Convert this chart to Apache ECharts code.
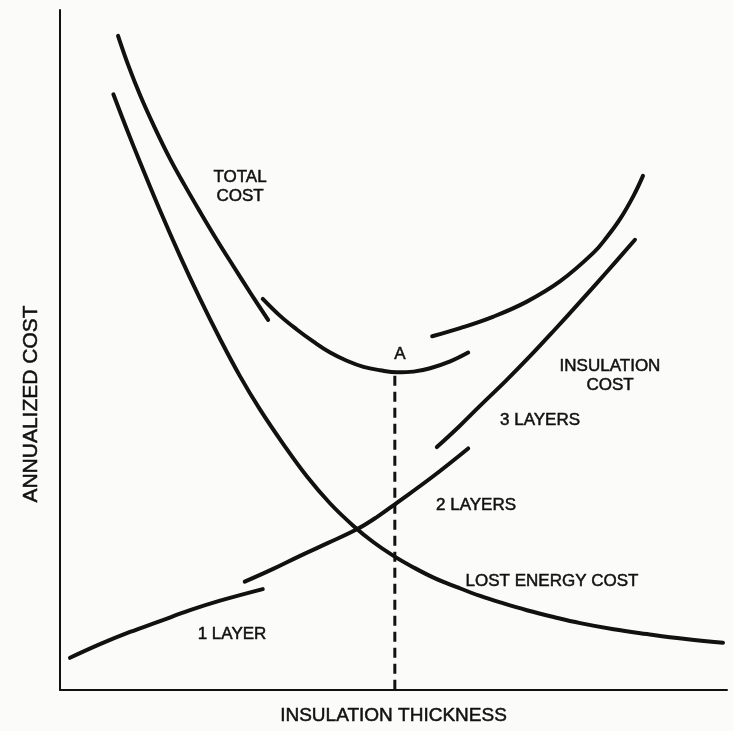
<!DOCTYPE html>
<html>
<head>
<meta charset="utf-8">
<script src="https://cdn.jsdelivr.net/npm/echarts@6/dist/echarts.min.js"></script>
<style>
  html, body { margin: 0; padding: 0; background: #fbfbfa; }
  #chart { width: 733px; height: 731px; }
</style>
</head>
<body>
<div id="chart"></div>
<script>
// thickness (0-100) vs annualized cost (0-100)
var totalCost1Layer = [[8.7, 96.2], [10.3, 91.7], [12.0, 87.5], [14.2, 82.7], [16.5, 78.1], [18.7, 74.2],
  [21.0, 70.3], [23.5, 66.2], [26.0, 62.3], [28.6, 58.3], [31.2, 54.4]];
var totalCost2Layers = [[30.4, 57.5], [33.0, 55.0], [35.5, 53.0], [38.0, 51.2], [40.5, 49.6], [43.0, 48.4],
  [45.5, 47.5], [48.0, 47.0], [50.5, 46.7], [53.0, 46.8], [55.5, 47.3], [58.5, 48.3], [61.2, 49.6]];
var totalCost3Layers = [[55.8, 52.0], [60.0, 53.2], [65.0, 54.9], [70.0, 57.1], [75.0, 60.1], [80.0, 64.3],
  [82.0, 66.6], [84.0, 69.3], [86.0, 72.7], [87.4, 75.6]];
var insulation1Layer = [[1.5, 4.7], [6.0, 6.7], [10.5, 8.5], [15.0, 10.1], [19.5, 11.7], [24.0, 13.1],
  [30.4, 14.8]];
var insulation2Layers = [[27.7, 15.9], [31.8, 17.7], [36.0, 19.7], [40.2, 21.6], [44.5, 23.6], [47.5, 25.4],
  [50.5, 27.5], [55.8, 31.3], [61.2, 35.5]];
var insulation3Layers = [[56.5, 35.7], [59.8, 38.7], [63.0, 41.8], [66.8, 45.4], [70.5, 49.1], [74.2, 53.0],
  [78.0, 57.1], [82.1, 61.6], [86.2, 66.2]];
var lostEnergyCost = [[8.0, 87.6], [10.0, 82.5], [12.0, 77.6], [15.0, 70.5], [18.0, 63.8], [21.0, 57.5],
  [24.0, 51.6], [27.0, 46.1], [30.0, 41.2], [33.5, 36.1], [37.0, 31.4], [40.5, 27.4], [44.0, 24.1],
  [47.0, 21.7], [50.0, 19.7], [53.0, 18.0], [56.0, 16.5], [59.5, 15.1], [63.0, 13.8], [66.5, 12.7],
  [70.0, 11.7], [74.0, 10.7], [78.0, 9.8], [83.0, 8.9], [88.0, 8.2], [93.5, 7.5], [99.4, 6.9]];
var optimum = [[50.2, 0], [50.2, 46.4]];

var FONT_FAMILY = '"Liberation Sans", Arial, sans-serif';
var INK = '#111';

function curve(name, data) {
  return {
    name: name,
    type: 'line',
    data: data,
    smooth: 0.4,
    showSymbol: false,
    silent: true,
    lineStyle: { color: INK, width: 4, cap: 'round', join: 'round' }
  };
}

function label(text, x, y, size, rotation) {
  return {
    type: 'text',
    x: x,
    y: y,
    rotation: rotation || 0,
    style: {
      text: text, font: (size || 17) + 'px ' + FONT_FAMILY, fill: INK,
      stroke: INK, lineWidth: 0.5,
      align: 'center', verticalAlign: 'middle', lineHeight: 19
    }
  };
}

var chart = echarts.init(document.getElementById('chart'));
var option = {
  backgroundColor: '#fbfbfa',
  animation: false,
  grid: { left: 60, right: 6, top: 10, bottom: 34 },
  xAxis: {
    type: 'value', min: 0, max: 100,
    name: 'INSULATION THICKNESS', nameLocation: 'middle', nameGap: 17,
    nameTextStyle: {
      color: INK, fontSize: 19, fontFamily: FONT_FAMILY,
      textBorderColor: INK, textBorderWidth: 0.5
    },
    axisLine: { lineStyle: { color: INK, width: 2 } },
    axisTick: { show: false }, axisLabel: { show: false }, splitLine: { show: false }
  },
  yAxis: {
    type: 'value', min: 0, max: 100,
    axisLine: { show: true, lineStyle: { color: INK, width: 2 } },
    axisTick: { show: false }, axisLabel: { show: false }, splitLine: { show: false }
  },
  series: [
    curve('Total cost, 1 layer', totalCost1Layer),
    curve('Total cost, 2 layers', totalCost2Layers),
    curve('Total cost, 3 layers', totalCost3Layers),
    curve('Insulation cost, 1 layer', insulation1Layer),
    curve('Insulation cost, 2 layers', insulation2Layers),
    curve('Insulation cost, 3 layers', insulation3Layers),
    curve('Lost energy cost', lostEnergyCost),
    {
      name: 'Optimum',
      type: 'line',
      data: optimum,
      showSymbol: false,
      silent: true,
      lineStyle: { color: INK, width: 3, type: [10, 6] }
    }
  ],
  graphic: [
    // y axis title
    label('ANNUALIZED COST', 31, 404, 21, Math.PI / 2),
    label('TOTAL\nCOST', 240, 187),
    label('INSULATION\nCOST', 610, 376),
    label('3 LAYERS', 540, 420),
    label('2 LAYERS', 476, 505),
    label('1 LAYER', 232, 634),
    label('LOST ENERGY COST', 552, 581),
    label('A', 400, 354)
  ]
};
chart.setOption(option);
</script>
</body>
</html>
